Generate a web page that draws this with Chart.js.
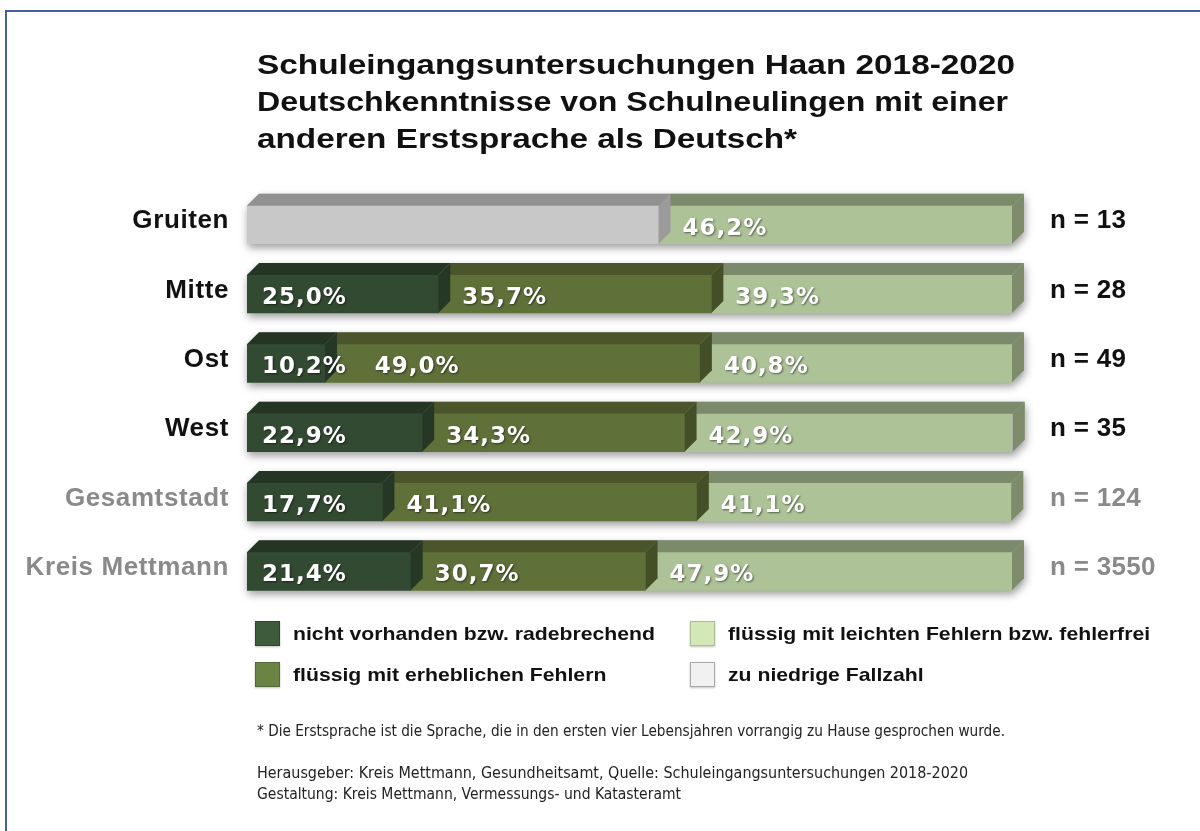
<!DOCTYPE html>
<html><head><meta charset="utf-8">
<script src="https://cdn.jsdelivr.net/npm/chart.js@4.4.1/dist/chart.umd.min.js"></script>
<style>html,body{margin:0;padding:0;background:#fff;overflow:hidden}#wrap{width:1200px;height:831px;position:relative}</style>
</head><body><div id="wrap"><canvas id="c"></canvas></div>
<script>
// ---------- data ----------
const categories = ['Gruiten', 'Mitte', 'Ost', 'West', 'Gesamtstadt', 'Kreis Mettmann'];
const caseCounts = [13, 28, 49, 35, 124, 3550];
const nichtVorhanden = [null, 25.0, 10.2, 22.9, 17.7, 21.4];
const erheblicheFehler = [null, 35.7, 49.0, 34.3, 41.1, 30.7];
const zuNiedrigeFallzahl = [53.8, null, null, null, null, null];
const leichteFehler = [46.2, 39.3, 40.8, 42.9, 41.1, 47.9];
const seriesNames = ['nicht vorhanden bzw. radebrechend', 'flüssig mit erheblichen Fehlern', 'zu niedrige Fallzahl', 'flüssig mit leichten Fehlern bzw. fehlerfrei'];
const labelledSeries = [true, true, false, true];
const titleLines = ['Schuleingangsuntersuchungen Haan 2018-2020', 'Deutschkenntnisse von Schulneulingen mit einer', 'anderen Erstsprache als Deutsch*'];
const footnoteLines = ['* Die Erstsprache ist die Sprache, die in den ersten vier Lebensjahren vorrangig zu Hause gesprochen wurde.',
  'Herausgeber: Kreis Mettmann, Gesundheitsamt, Quelle: Schuleingangsuntersuchungen 2018-2020',
  'Gestaltung: Kreis Mettmann, Vermessungs- und Katasteramt'];

// ---------- styles / layout ----------
const frontColors = ['#334a32', '#5f7039', '#c8c8c8', '#adc296'];
const topColors = ['#243523', '#4a552b', '#919191', '#7b8a6a'];
const sideColors = ['#263726', '#454f27', '#9b9b9b', '#7e8c6b'];
const legendColors = ['#3e5b3c', '#6c8443', '#f1f1f1', '#d3e8b6'];
const legendBorders = ['#2e462d', '#55693a', '#a8a8a8', '#a9bf90'];
const rowTextColors = ['#111', '#111', '#111', '#111', '#8a8a8a', '#8a8a8a'];
const titleWidths = [758, 751, 540];
const footnoteWidths = [748, 711, 424];
const footnoteBaselines = [736, 778, 799];
const DEPTH = 12;

const seriesData = [nichtVorhanden, erheblicheFehler, zuNiedrigeFallzahl, leichteFehler];

function fmt(v) { return v.toFixed(1).replace('.', ',') + '%'; }

function rowSegments(chart, i) {
  const out = [];
  chart.data.datasets.forEach((ds, di) => {
    const v = ds.data[i];
    if (v == null || v === 0) return;
    const el = chart.getDatasetMeta(di).data[i];
    const p = el.getProps(['x', 'y', 'base', 'height'], true);
    out.push({ x0: Math.min(p.base, p.x), x1: Math.max(p.base, p.x), yc: p.y, yT: p.y - p.height / 2, yB: p.y + p.height / 2, v, di });
  });
  return out.sort((a, b) => a.x0 - b.x0);
}

function drawFit(ctx, text, x, y, width) {
  const sx = width / ctx.measureText(text).width;
  ctx.save();
  ctx.translate(x, y);
  ctx.scale(sx, 1);
  ctx.textAlign = 'left';
  ctx.fillText(text, 0, 0);
  ctx.restore();
}

const decor = {
  id: 'decor',
  beforeDraw(chart) {
    const ctx = chart.ctx;
    ctx.save();
    ctx.fillStyle = '#fff';
    ctx.fillRect(0, 0, chart.width, chart.height);
    ctx.strokeStyle = '#4460a0';
    ctx.lineWidth = 2;
    ctx.strokeRect(6, 11, 1300, 1000);
    ctx.restore();
  },
  beforeDatasetsDraw(chart) {
    const ctx = chart.ctx;
    categories.forEach((c, i) => {
      const s = rowSegments(chart, i);
      if (!s.length) return;
      const x0 = s[0].x0, x1 = s[s.length - 1].x1, yT = s[0].yT, yB = s[0].yB;
      ctx.save();
      ctx.shadowColor = 'rgba(0,0,0,0.4)';
      ctx.shadowBlur = 9;
      ctx.shadowOffsetX = 1;
      ctx.shadowOffsetY = 4;
      ctx.fillStyle = '#bbb';
      ctx.beginPath();
      ctx.moveTo(x0, yB); ctx.lineTo(x0, yT); ctx.lineTo(x0 + DEPTH, yT - DEPTH);
      ctx.lineTo(x1 + DEPTH, yT - DEPTH); ctx.lineTo(x1 + DEPTH, yB - DEPTH); ctx.lineTo(x1, yB);
      ctx.closePath(); ctx.fill();
      ctx.restore();
    });
  },
  afterDatasetsDraw(chart) {
    const ctx = chart.ctx;
    categories.forEach((c, i) => {
      const s = rowSegments(chart, i);
      for (let k = s.length - 1; k >= 0; k--) {
        const g = s[k];
        ctx.save();
        ctx.fillStyle = topColors[g.di];
        ctx.beginPath();
        ctx.moveTo(g.x0, g.yT); ctx.lineTo(g.x1, g.yT); ctx.lineTo(g.x1 + DEPTH, g.yT - DEPTH); ctx.lineTo(g.x0 + DEPTH, g.yT - DEPTH);
        ctx.closePath(); ctx.fill();
        ctx.fillStyle = sideColors[g.di];
        ctx.beginPath();
        ctx.moveTo(g.x1, g.yT); ctx.lineTo(g.x1 + DEPTH, g.yT - DEPTH); ctx.lineTo(g.x1 + DEPTH, g.yB - DEPTH); ctx.lineTo(g.x1, g.yB);
        ctx.closePath(); ctx.fill();
        ctx.restore();
      }
      ctx.save();
      ctx.font = 'bold 23px "DejaVu Sans", Verdana, sans-serif';
      if ('letterSpacing' in ctx) ctx.letterSpacing = '1px';
      ctx.fillStyle = '#fff';
      ctx.shadowColor = 'rgba(0,0,0,0.5)';
      ctx.shadowBlur = 2;
      ctx.shadowOffsetX = 1;
      ctx.shadowOffsetY = 1;
      let prevEnd = -1e9;
      s.forEach((g, k) => {
        if (!labelledSeries[g.di]) { prevEnd = -1e9; return; }
        const txt = fmt(g.v);
        let x = k === 0 ? g.x0 + 15 : g.x0 + 24;
        x = Math.max(x, prevEnd + 28);
        ctx.fillText(txt, x, g.yc + 10);
        prevEnd = x + ctx.measureText(txt).width;
      });
      ctx.restore();
      const yc = s.length ? s[0].yc : chart.scales.y.getPixelForValue(i);
      ctx.save();
      ctx.font = 'bold 26px "Liberation Sans", Arial, sans-serif';
      if ('letterSpacing' in ctx) ctx.letterSpacing = '0.6px';
      ctx.fillStyle = rowTextColors[i];
      ctx.textAlign = 'right';
      ctx.fillText(c, 229, yc + 3.5);
      if ('letterSpacing' in ctx) ctx.letterSpacing = '0.3px';
      ctx.textAlign = 'left';
      ctx.fillText('n = ' + caseCounts[i], 1050, yc + 3.5);
      ctx.restore();
    });
  },
  afterDraw(chart) {
    const ctx = chart.ctx;
    ctx.save();
    ctx.fillStyle = '#111';
    ctx.font = 'bold 28px "Liberation Sans", Arial, sans-serif';
    titleLines.forEach((t, k) => drawFit(ctx, t, 257, 74 + k * 37, titleWidths[k]));
    ctx.restore();
    ctx.save();
    ctx.font = 'bold 18.5px "Liberation Sans", Arial, sans-serif';
    const lsx = 362 / ctx.measureText(seriesNames[0]).width;
    const legendSlots = [[255, 621], [255, 662], [690, 662], [690, 621]];
    seriesNames.forEach((name, k) => {
      const [bx, by] = legendSlots[k];
      ctx.save();
      ctx.shadowColor = 'rgba(0,0,0,0.25)';
      ctx.shadowBlur = 2;
      ctx.shadowOffsetY = 1;
      ctx.fillStyle = legendColors[k];
      ctx.fillRect(bx, by, 25, 25);
      ctx.restore();
      ctx.strokeStyle = legendBorders[k];
      ctx.lineWidth = 1;
      ctx.strokeRect(bx + 0.5, by + 0.5, 24, 24);
      ctx.fillStyle = '#111';
      ctx.save();
      ctx.translate(bx + 38, by + 18.5);
      ctx.scale(lsx, 1);
      ctx.fillText(name, 0, 0);
      ctx.restore();
    });
    ctx.restore();
    ctx.save();
    ctx.fillStyle = '#222';
    ctx.font = '16px "Liberation Sans Narrow", "DejaVu Sans Condensed", "Liberation Sans", sans-serif';
    footnoteLines.forEach((t, k) => drawFit(ctx, t, 257, footnoteBaselines[k], footnoteWidths[k]));
    ctx.restore();
  }
};

const datasets = seriesNames.map((name, k) => ({
  label: name,
  data: seriesData[k],
  backgroundColor: frontColors[k],
  borderWidth: 0,
  barThickness: 38,
  stack: 'a'
}));

new Chart(document.getElementById('c'), {
  type: 'bar',
  data: { labels: categories, datasets },
  options: {
    indexAxis: 'y',
    responsive: true,
    maintainAspectRatio: false,
    animation: false,
    layout: { padding: { left: 247, right: 188, top: 190, bottom: 225 } },
    plugins: { legend: { display: false }, title: { display: false }, tooltip: { enabled: false } },
    scales: {
      x: { stacked: true, min: 0, max: 100, display: false },
      y: { stacked: true, display: false, offset: true }
    }
  },
  plugins: [decor]
});
</script>
</body></html>
